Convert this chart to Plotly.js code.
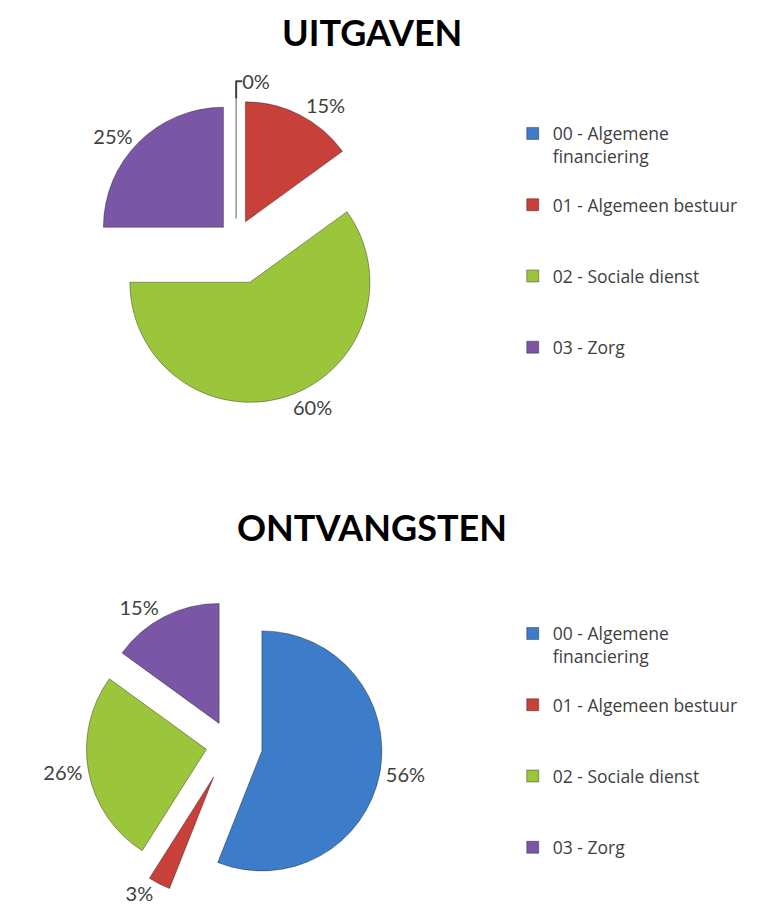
<!DOCTYPE html>
<html>
<head>
<meta charset="utf-8">
<script src="https://cdn.plot.ly/plotly-3.0.1.min.js"></script>
<style>html,body{margin:0;padding:0;background:#fff;}#chart{width:763px;height:910px;}</style>
</head>
<body>
<div id="chart"></div>
<script>
const categories = ["00 - Algemene<br>financiering", "01 - Algemeen bestuur", "02 - Sociale dienst", "03 - Zorg"];
const uitgavenValues = [0, 15, 60, 25];
const ontvangstenValues = [56, 3, 26, 15];
const chartTitles = ["UITGAVEN", "ONTVANGSTEN"];
const sliceColors = ["#3d7cc9", "#c8403a", "#9bc63c", "#7b56a6"];

// extra blank lines to space the legend entries like the original
const legendPad = ["<br> ", "<br> <br> ", "<br> <br> ", ""];
const legendLabels = categories.map((c, i) => c + legendPad[i]);

const labelFont = {family: "Lato, 'Open Sans', sans-serif", size: 20, color: "#404040"};

const pieCommon = {
  type: "pie",
  labels: legendLabels,
  sort: false,
  direction: "clockwise",
  rotation: 0,
  textinfo: "percent",
  texttemplate: "%{percent:.0%}",
  textposition: "outside",
  outsidetextfont: labelFont,
  marker: {colors: sliceColors, line: {color: "rgba(0,0,0,0.35)", width: 1}},
  hoverinfo: "label+percent",
  automargin: false
};

const traces = [
  Object.assign({}, pieCommon, {
    values: uitgavenValues,
    name: chartTitles[0],
    domain: {x: [0.094, 0.525], y: [0.5555, 0.917]},
    pull: [0.18, 0.17, 0.37, 0.15],
    legend: "legend",
    legendgroup: "uitgaven"
  }),
  Object.assign({}, pieCommon, {
    values: ontvangstenValues,
    name: chartTitles[1],
    domain: {x: [0.097, 0.506], y: [0.01, 0.353]},
    pull: [0.27, 0.3, 0.2, 0.2],
    legend: "legend2",
    legendgroup: "ontvangsten"
  })
];

const legendCommon = {
  font: {family: "'Open Sans', Lato, sans-serif", size: 17.5, color: "#404040"},
  bgcolor: "rgba(0,0,0,0)",
  valign: "top",
  itemclick: false,
  itemdoubleclick: false,
  xanchor: "left",
  yanchor: "top"
};

const titleFont = {family: "Lato, 'Open Sans', sans-serif", size: 36, color: "#000"};

const layout = {
  width: 763,
  height: 910,
  margin: {l: 0, r: 0, t: 0, b: 0},
  paper_bgcolor: "#ffffff",
  showlegend: true,
  legend: Object.assign({}, legendCommon, {x: 0.672, y: 0.873}),
  legend2: Object.assign({}, legendCommon, {x: 0.672, y: 0.3235}),
  annotations: [
    {text: "<b>" + chartTitles[0] + "</b>", x: 0.487, y: 0.965, xref: "paper", yref: "paper",
     xanchor: "center", yanchor: "middle", showarrow: false, font: titleFont},
    {text: "<b>" + chartTitles[1] + "</b>", x: 0.487, y: 0.421, xref: "paper", yref: "paper",
     xanchor: "center", yanchor: "middle", showarrow: false, font: titleFont}
  ]
};

Plotly.newPlot("chart", traces, layout, {displayModeBar: false});
</script>
</body>
</html>
